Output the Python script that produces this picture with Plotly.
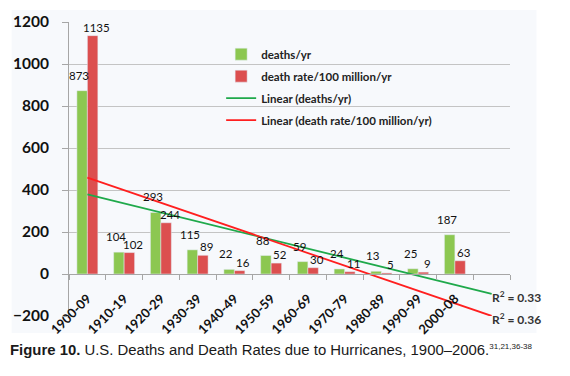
import numpy as np
import plotly.graph_objects as go

categories = ["1900-09", "1910-19", "1920-29", "1930-39", "1940-49", "1950-59",
              "1960-69", "1970-79", "1980-89", "1990-99", "2000-08"]
forecast_slot = " "
deaths = [873, 104, 293, 115, 22, 88, 59, 24, 13, 25, 187]
death_rate = [1135, 102, 244, 89, 16, 52, 30, 11, 5, 9, 63]
r2_labels = ["0.33", "0.36"]
y_ticks = [-200, 0, 200, 400, 600, 800, 1000, 1200]

GREEN = "#8cc751"
RED = "#dc4f4f"
TGREEN = "#1fa94b"
TRED = "#ff1f1f"
FONT = "Lato"

# Excel-style linear trendlines, forecast forward one period
xs = np.arange(1, len(categories) + 1)
fit_d = np.polyfit(xs, deaths, 1)
fit_r = np.polyfit(xs, death_rate, 1)
x_ends = [1, len(categories) + 1]
trend_x = [categories[0], forecast_slot]
trend_d = list(np.polyval(fit_d, x_ends))
trend_r = list(np.polyval(fit_r, x_ends))

fig = go.Figure()
fig.add_trace(go.Bar(x=categories, y=deaths, name="deaths/yr", marker_color=GREEN, legendgroup="a"))
fig.add_trace(go.Bar(x=categories, y=death_rate, name="death rate/100 million/yr", marker_color=RED,
                     legendgroup="b"))
fig.add_trace(go.Scatter(x=trend_x, y=trend_d, mode="lines", name="Linear (deaths/yr)",
                         line=dict(color=TGREEN, width=1.8), cliponaxis=False, legendgroup="c"))
fig.add_trace(go.Scatter(x=trend_x, y=trend_r, mode="lines", name="Linear (death rate/100 million/yr)",
                         line=dict(color=TRED, width=1.8), cliponaxis=False, legendgroup="d"))

annotations = []
for c, d, r in zip(categories, deaths, death_rate):
    annotations.append(dict(x=c, y=d, xref="x", yref="y", text=str(d), showarrow=False,
                            xanchor="center", yanchor="bottom", xshift=-8, yshift=7,
                            font=dict(family=FONT, size=11.5, color="#111")))
    annotations.append(dict(x=c, y=r, xref="x", yref="y", text=str(r), showarrow=False,
                            xanchor="center", yanchor="bottom", xshift=9, yshift=0,
                            font=dict(family=FONT, size=11.5, color="#111")))
for yv, lab in zip([trend_d[1], trend_r[1]], r2_labels):
    annotations.append(dict(x=forecast_slot, y=yv, xref="x", yref="y",
                            text="R<sup>2</sup> = " + lab, showarrow=False,
                            xanchor="left", yanchor="middle", xshift=-2, yshift=-3,
                            font=dict(family=FONT, size=12, color="#333", weight="bold")))
annotations.append(dict(x=-0.138, y=-0.116, xref="paper", yref="paper", xanchor="left", yanchor="middle",
                        showarrow=False,
                        text="<b>Figure 10.</b> U.S. Deaths and Death Rates due to Hurricanes, 1900–2006."
                             "<sup><span style='font-size:8px'>31,21,36-38</span></sup>",
                        font=dict(family="Liberation Sans", size=14.9, color="#1a1a1a")))

fig.update_layout(
    width=570, height=376,
    margin=dict(l=69, r=60, t=22, b=60, autoexpand=False),
    paper_bgcolor="white", plot_bgcolor="rgba(0,0,0,0)",
    barmode="group", bargap=0.43, bargroupgap=0,
    showlegend=True,
    legend=dict(x=0.345, y=0.94, xanchor="left", yanchor="top", bgcolor="rgba(0,0,0,0)",
                font=dict(family=FONT, size=11.5, color="#222", weight="bold"),
                tracegroupgap=3),
    annotations=annotations,
    shapes=[dict(type="rect", xref="paper", yref="paper", x0=-0.13, x1=1.06, y0=-0.058, y1=1.041,
                 fillcolor="#f7f9fc", line=dict(width=0), layer="below")],
    xaxis=dict(type="category", categoryorder="array", categoryarray=categories + [forecast_slot],
               range=[-0.5, len(categories) + 0.5], anchor="free", position=200 / 1400,
               showline=True, linecolor="#a6a6a6", linewidth=1, automargin=False,
               ticks="outside", ticklen=5, tickcolor="#a6a6a6", tickson="boundaries",
               tickangle=-45, ticklabelstandoff=11,
               tickfont=dict(family=FONT, size=13, color="#111", weight="bold"),
               showgrid=False, zeroline=False),
    yaxis=dict(range=[-200, 1200], tickvals=y_ticks, showgrid=True, gridcolor="#c4c4c4", gridwidth=1,
               zeroline=False, showline=True, linecolor="#a6a6a6", linewidth=1, automargin=False,
               ticks="outside", ticklen=6, tickcolor="#a6a6a6", ticklabelstandoff=10,
               tickfont=dict(family=FONT, size=15.5, color="#111", weight="bold")),
)

fig.write_html("out.html", config={"displayModeBar": False},
               post_script="document.body.style.margin='0px';")
